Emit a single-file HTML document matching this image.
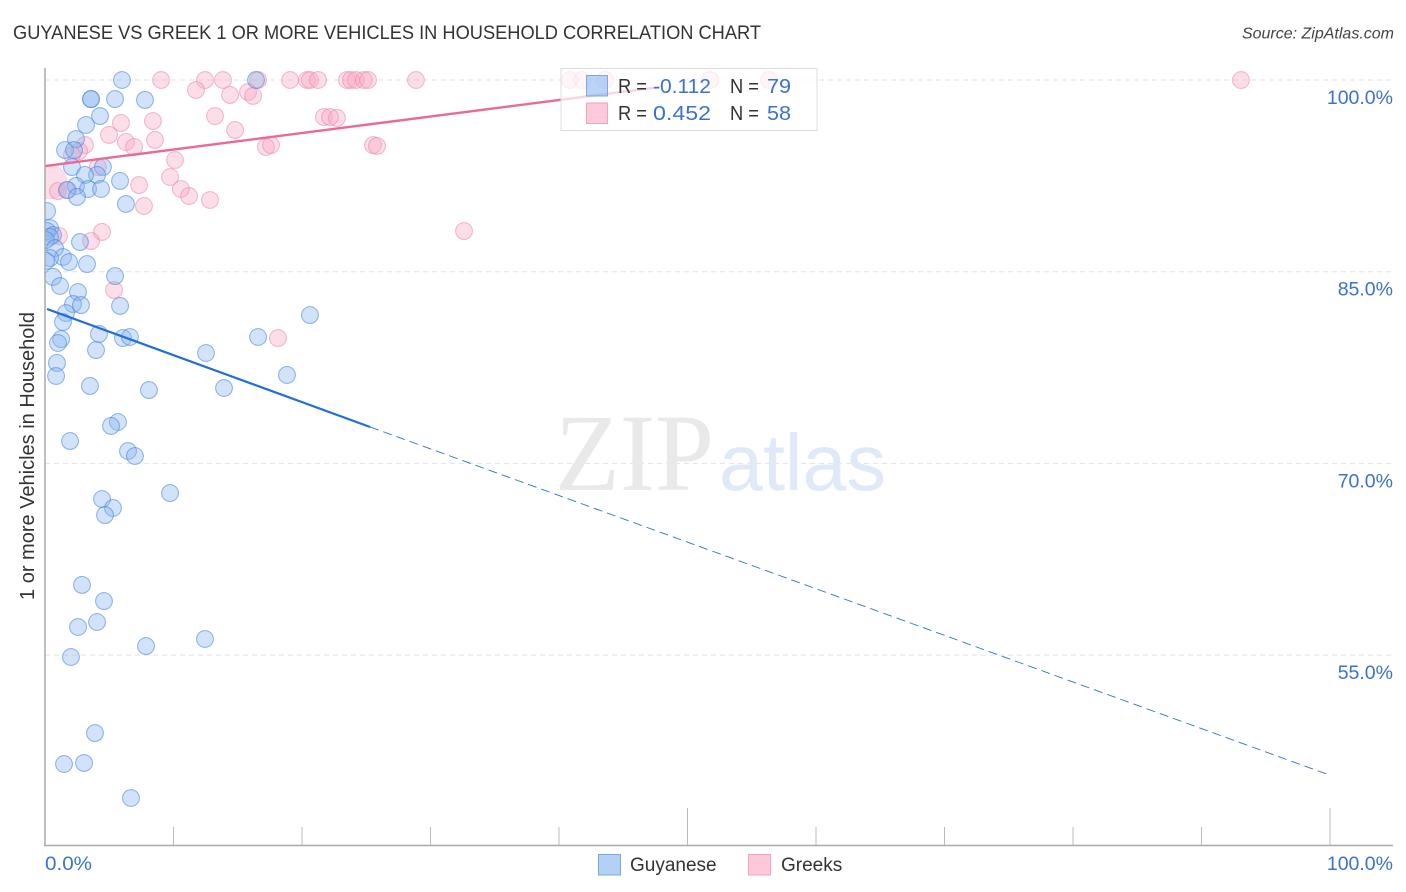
<!DOCTYPE html>
<html lang="en">
<head>
<meta charset="utf-8">
<title>Guyanese vs Greek 1 or more Vehicles in Household Correlation Chart</title>
<style>
html,body{margin:0;padding:0;background:#fff;width:1406px;height:892px;overflow:hidden}
svg{display:block}
text{font-family:"Liberation Sans",sans-serif}
</style>
</head>
<body>
<svg id="chart" xmlns="http://www.w3.org/2000/svg" width="1406" height="892" viewBox="0 0 1406 892">
  <defs><clipPath id="plot-clip"><rect x="45.5" y="60" width="1360" height="785"/></clipPath></defs>
  <text x="13" y="39" font-size="19" fill="#333" textLength="748" lengthAdjust="spacingAndGlyphs">GUYANESE VS GREEK 1 OR MORE VEHICLES IN HOUSEHOLD CORRELATION CHART</text>
  <text x="1394" y="38.5" font-size="16" font-style="italic" fill="#444" text-anchor="end">Source: ZipAtlas.com</text>
  <g id="grid"></g>
  <g>
    <text x="555" y="490" font-size="110" fill="#e9e9e9" textLength="159" lengthAdjust="spacingAndGlyphs" style="font-family:'Liberation Serif',serif">ZIP</text>
    <text x="719" y="490" font-size="80" fill="#dfe9f8" textLength="167" lengthAdjust="spacingAndGlyphs">atlas</text>
  </g>
  <g id="greek-points" clip-path="url(#plot-clip)"></g>
  <g id="guyanese-points" clip-path="url(#plot-clip)"></g>
  <g id="trends"></g>
  <g id="axes"></g>
  <text transform="translate(34,456) rotate(-90)" font-size="20" fill="#333" text-anchor="middle">1 or more Vehicles in Household</text>

  <g>
    <rect x="561" y="68.5" width="256" height="62" fill="#fff" fill-opacity="0.72" stroke="#dcdcdc" stroke-width="1"/>
    <rect x="586.5" y="75.5" width="21" height="20.5" fill="#7fb0f0" fill-opacity="0.55" stroke="#7aa8e4" stroke-width="1"/>
    <rect x="586.5" y="103" width="21" height="20.5" fill="#fb9fbd" fill-opacity="0.55" stroke="#f3a3bd" stroke-width="1"/>
    <text x="618" y="93" font-size="20" fill="#333" textLength="29" lengthAdjust="spacingAndGlyphs">R =</text>
    <text x="653" y="93" font-size="20" fill="#3a72d2" textLength="58" lengthAdjust="spacingAndGlyphs">-0.112</text>
    <text x="730" y="93" font-size="20" fill="#333" textLength="29" lengthAdjust="spacingAndGlyphs">N =</text>
    <text x="767" y="93" font-size="20" fill="#3a72d2" textLength="24" lengthAdjust="spacingAndGlyphs">79</text>
    <text x="618" y="120" font-size="20" fill="#333" textLength="29" lengthAdjust="spacingAndGlyphs">R =</text>
    <text x="653" y="120" font-size="20" fill="#3a72d2" textLength="58" lengthAdjust="spacingAndGlyphs">0.452</text>
    <text x="730" y="120" font-size="20" fill="#333" textLength="29" lengthAdjust="spacingAndGlyphs">N =</text>
    <text x="767" y="120" font-size="20" fill="#3a72d2" textLength="24" lengthAdjust="spacingAndGlyphs">58</text>
  </g>

  <g>
    <rect x="598.5" y="854.5" width="22" height="20.5" fill="#b5d0f5" stroke="#7aa8e4" stroke-width="1"/>
    <text x="630" y="871" font-size="19" fill="#333">Guyanese</text>
    <rect x="748.5" y="854.5" width="22" height="20.5" fill="#fdc8d9" stroke="#f3a3bd" stroke-width="1"/>
    <text x="781" y="871" font-size="19" fill="#333">Greeks</text>
  </g>
</svg>
<script>
const xTickValues = [0, 10, 20, 30, 40, 50, 60, 70, 80, 90, 100];
const xMajorTicks = [0, 50, 100];
const xEndLabels = ["0.0%", "100.0%"];
const yTickValues = [100, 85, 70, 55];
const yTickLabels = ["100.0%", "85.0%", "70.0%", "55.0%"];

const guyaneseX = [5.99,16.42,3.58,3.58,5.45,7.78,4.28,3.19,2.41,1.56,2.26,2.10,4.51,4.05,3.11,5.84,2.41,3.35,4.36,1.71,2.49,6.30,0.16,0.39,0.16,0.62,0.39,0.08,2.72,0.78,1.40,0.39,0.08,3.27,1.87,0.62,5.45,1.17,2.57,2.18,2.80,5.84,1.63,1.40,4.20,6.07,6.61,1.25,1.01,3.97,12.53,16.58,20.62,0.93,0.86,3.50,8.09,13.93,18.83,5.68,5.14,1.95,6.46,7.00,9.73,4.44,5.29,4.67,2.88,4.59,4.05,2.57,2.02,7.86,12.45,3.89,1.48,3.04,6.69];
const guyaneseY = [100,100,98.51,98.51,98.51,98.44,97.18,96.48,95.38,94.52,94.52,93.19,93.19,92.57,92.57,92.10,91.71,91.47,91.47,91.39,90.85,90.30,89.75,88.42,88.18,87.87,87.72,87.48,87.32,86.85,86.15,86.07,85.84,85.60,85.76,84.59,84.66,83.88,83.41,82.47,82.39,82.32,81.77,81.06,80.13,79.81,79.89,79.73,79.42,78.87,78.64,79.89,81.61,77.86,76.84,76.06,75.74,75.90,76.92,73.24,72.93,71.75,70.97,70.58,67.68,67.21,66.51,65.96,60.49,59.23,57.59,57.20,54.85,55.71,56.26,48.90,46.48,46.56,43.82];

const greekX = [9.03,12.45,13.85,16.58,19.07,20.39,20.62,21.25,23.50,23.81,24.20,24.82,25.14,28.87,40.86,41.79,43.58,51.75,56.34,93.07,11.75,14.40,15.80,16.19,13.23,14.79,8.40,5.91,4.98,6.30,6.93,8.56,17.20,17.59,21.71,22.18,22.72,25.53,25.84,3.11,2.65,2.10,4.12,10.12,9.73,10.58,11.21,12.84,7.32,7.70,0.39,1.01,1.79,1.09,4.44,3.58,5.37,18.13,32.61];
const greekY = [100,100,100,100,100,100,100,100,100,100,100,100,100,100,100,100,100,100,100,100,99.22,98.83,99.06,98.75,97.18,96.09,96.79,96.64,95.70,95.15,94.76,95.31,94.76,94.91,97.10,97.10,97.03,94.91,94.84,94.91,94.44,94.13,93.19,93.74,92.41,91.47,90.92,90.61,91.78,90.14,92.02,91.31,91.39,87.79,88.11,87.40,83.57,79.81,88.18];
const greekWeights = [1,1,1,1,1,1,1,1,1,1,1,1,1,1,1,1,1,1,1,1,1,1,1,1,1,1,1,1,1,1,1,1,1,1,1,1,1,1,1,1,1,1,1,1,1,1,1,1,1,1,4,1,1,1,1,1,1,1,1];

const guyaneseTrendX = [0, 25.3];
const guyaneseTrendY = [82.08, 72.85];
const guyaneseForecastX = [25.3, 100];
const guyaneseForecastY = [72.85, 45.6];
const greekTrendX = [0, 47.86];
const greekTrendY = [93.27, 99.45];

const NS = "http://www.w3.org/2000/svg";
const xScale = v => 45 + v * 12.85;
const yScale = v => 80 + (100 - v) * 12.78;

function mk(parent, tag, attrs, txt) {
  const el = document.createElementNS(NS, tag);
  for (const k in attrs) el.setAttribute(k, attrs[k]);
  if (txt !== undefined) el.textContent = txt;
  parent.appendChild(el);
  return el;
}

const gridG = document.getElementById("grid");
const axesG = document.getElementById("axes");
yTickValues.forEach((v, i) => {
  const g = mk(gridG, "line", {x1: 45, x2: 1393, y1: yScale(v), y2: yScale(v), stroke: "#e2e2e2", "stroke-width": 1, "stroke-dasharray": "5 4"});
  
  
  const t = mk(axesG, "text", {x: 1393, y: yScale(v) + 24, "font-size": 19.5, fill: "#3a72d2", "text-anchor": "end"}, yTickLabels[i]);
  
  
});

const yAxis = mk(axesG, "line", {x1: 45, x2: 45, y1: 68, y2: 845.5, stroke: "#aaa", "stroke-width": 1.5});


const xAxis = mk(axesG, "line", {x1: 44, x2: 1393, y1: 845.5, y2: 845.5, stroke: "#aaa", "stroke-width": 1.5});


xTickValues.forEach(v => {
  if (v === 0) return;
  const top = xMajorTicks.includes(v) ? 808 : 827;
  const t = mk(axesG, "line", {x1: xScale(v), x2: xScale(v), y1: top, y2: 845, stroke: "#bbb", "stroke-width": 1});
  
  
});
const x0Label = mk(axesG, "text", {x: 45, y: 870, "font-size": 19.5, fill: "#3a72d2", textLength: 47, lengthAdjust: "spacingAndGlyphs"}, xEndLabels[0]);


const x1Label = mk(axesG, "text", {x: 1393, y: 870, "font-size": 19.5, fill: "#3a72d2", "text-anchor": "end"}, xEndLabels[1]);



const greekG = document.getElementById("greek-points");
greekX.forEach((x, i) => {
  const big = greekWeights[i] > 1;
  const c = mk(greekG, "circle", {cx: xScale(x), cy: yScale(greekY[i]), r: 8.4 * Math.sqrt(greekWeights[i]), fill: "#f8a9c3", "fill-opacity": 0.38, stroke: "#ec87a9", "stroke-opacity": big ? 0.25 : 0.6, "stroke-width": 1});
  
  
});
const guyG = document.getElementById("guyanese-points");
guyaneseX.forEach((x, i) => {
  const c = mk(guyG, "circle", {cx: xScale(x), cy: yScale(guyaneseY[i]), r: 8.4, fill: "#8ab6ee", "fill-opacity": 0.38, stroke: "#3f84dc", "stroke-opacity": 0.6, "stroke-width": 1});
  
  
});

const trendsG = document.getElementById("trends");
const gf = mk(trendsG, "line", {x1: xScale(guyaneseForecastX[0]), y1: yScale(guyaneseForecastY[0]), x2: xScale(guyaneseForecastX[1]), y2: yScale(guyaneseForecastY[1]), stroke: "#2a72d8", "stroke-width": 0.9, "stroke-dasharray": "9 5"});


const gt = mk(trendsG, "line", {x1: xScale(guyaneseTrendX[0]) + 2, y1: yScale(guyaneseTrendY[0]), x2: xScale(guyaneseTrendX[1]), y2: yScale(guyaneseTrendY[1]), stroke: "#1f6fdb", "stroke-width": 2.2});


const pt = mk(trendsG, "line", {x1: xScale(greekTrendX[0]), y1: yScale(greekTrendY[0]), x2: xScale(greekTrendX[1]), y2: yScale(greekTrendY[1]), stroke: "#ea6a97", "stroke-width": 2.4});


</script>
</body>
</html>
